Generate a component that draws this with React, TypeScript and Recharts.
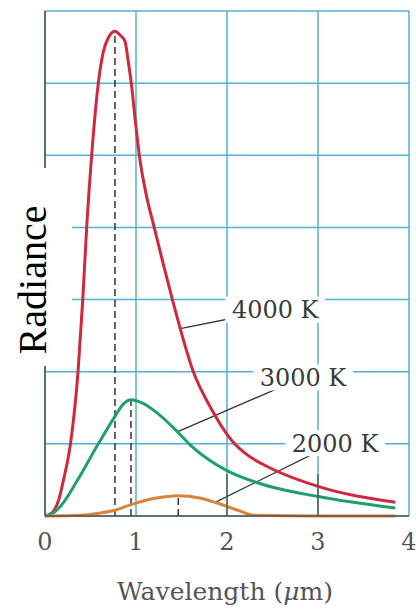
import { LineChart, Line, XAxis, YAxis, CartesianGrid, ReferenceLine, ReferenceDot } from 'recharts';

// wavelength (µm) and radiance (arbitrary units)
const wl4000 = [0, 0.05, 0.1, 0.15, 0.2, 0.28, 0.363, 0.415, 0.458, 0.513, 0.586, 0.64, 0.696, 0.769, 0.83, 0.879, 0.915, 0.953, 0.995, 1.04, 1.105, 1.2, 1.3, 1.4, 1.63, 1.83, 2.05, 2.23, 2.42, 3.0, 3.85];
const rad4000 = [0, 0.02, 0.08, 0.22, 0.48, 1.0, 2.0, 3.0, 4.0, 5.0, 6.0, 6.43, 6.63, 6.72, 6.66, 6.58, 6.3, 5.95, 5.45, 4.97, 4.5, 4.0, 3.49, 3.0, 2.0, 1.48, 1.05, 0.84, 0.7, 0.41, 0.19];

const wl3000 = [0, 0.1, 0.18, 0.348, 0.586, 0.769, 0.86, 0.945, 1.06, 1.21, 1.43, 1.6, 1.8, 2.0, 2.36, 3.0, 3.85];
const rad3000 = [0, 0.05, 0.15, 0.477, 1.0, 1.38, 1.55, 1.61, 1.57, 1.45, 1.2, 0.98, 0.78, 0.63, 0.45, 0.27, 0.11];

const wl2000 = [0, 0.4, 0.6, 0.77, 0.93, 1.21, 1.465, 1.7, 1.89, 2.14, 2.29, 3.0, 3.85];
const rad2000 = [0, 0.01, 0.04, 0.08, 0.15, 0.245, 0.28, 0.25, 0.18, 0.07, 0.01, 0, 0];

const xTicks = [0, 1, 2, 3, 4];
const yTicks = [0, 1, 2, 3, 4, 5, 6, 7];
const innerTicks = [2, 3];

const labelNames = ['4000 K', '3000 K', '2000 K'];
const labelX = [2.53, 2.835, 3.187];
const labelY = [2.86, 1.92, 1.01];
const leaderToX = [1.5, 1.46, 1.87];
const leaderToY = [2.6, 1.17, 0.19];

const GRID = '#4fb3cf';
const AXIS = '#555';
const TEXT = '#3a3a3a';
const SERIF = '"DejaVu Serif", serif';

const series = [
  { name: '4000 K', xs: wl4000, ys: rad4000, color: '#d0283c' },
  { name: '3000 K', xs: wl3000, ys: rad3000, color: '#1f9f6c' },
  { name: '2000 K', xs: wl2000, ys: rad2000, color: '#d8843a' },
].map((s) => {
  const data = s.xs.map((x, i) => ({ x, y: s.ys[i] }));
  const peak = data.reduce((a, b) => (b.y > a.y ? b : a));
  return { ...s, data, peak };
});

const BOX_W = 100;
const BOX_H = 26;

const XTick = (props: any) => {
  const { x, y, payload } = props;
  return (
    <g>
      {innerTicks.includes(payload.value) && (
        <line x1={x} y1={y} x2={x} y2={y - 42} stroke={AXIS} strokeWidth={1.4} />
      )}
      <text x={x} y={y + 34} textAnchor="middle" fill="#555" fontSize={24} fontFamily={SERIF}>
        {payload.value}
      </text>
    </g>
  );
};

const NoTick = () => <g />;

const AxisTitle = (props: any) => {
  const { viewBox } = props;
  return (
    <text
      x={viewBox.x + viewBox.width / 2 - 2}
      y={viewBox.y + 84}
      textAnchor="middle"
      fill="#555"
      fontSize={25}
      fontFamily={SERIF}
    >
      Wavelength (<tspan fontStyle="italic">μ</tspan>m)
    </text>
  );
};

export default function App() {
  return (
    <div style={{ position: 'absolute', left: 0, top: 0, width: 416, height: 612, background: '#fff' }}>
      <LineChart width={416} height={612} margin={{ top: 11, right: 7, bottom: 0, left: 44 }}>
        <CartesianGrid stroke={GRID} strokeWidth={1.5} />
        <XAxis
          dataKey="x"
          type="number"
          domain={[0, 4]}
          ticks={xTicks}
          height={96}
          tickSize={0}
          tickMargin={0}
          tickLine={false}
          axisLine={{ stroke: AXIS, strokeWidth: 1.6 }}
          tick={<XTick />}
          label={<AxisTitle />}
          allowDuplicatedCategory={false}
        />
        <YAxis
          type="number"
          domain={[0, 7]}
          ticks={yTicks}
          width={1}
          tick={<NoTick />}
          tickLine={false}
          axisLine={{ stroke: AXIS, strokeWidth: 1.6 }}
        />
        {series.map((s) => (
          <ReferenceLine
            key={'peak' + s.name}
            segment={[{ x: s.peak.x, y: 0 }, { x: s.peak.x, y: s.peak.y }]}
            stroke="#333"
            strokeWidth={1.5}
            strokeDasharray="7 4"
          />
        ))}
        {labelNames.map((n, i) => (
          <ReferenceLine
            key={'lead' + n}
            segment={[{ x: leaderToX[i], y: leaderToY[i] }, { x: labelX[i], y: labelY[i] }]}
            stroke="#333"
            strokeWidth={1.3}
          />
        ))}
        {series.map((s) => (
          <Line
            key={s.name}
            data={s.data}
            dataKey="y"
            type="monotone"
            stroke={s.color}
            strokeWidth={3}
            dot={false}
            isAnimationActive={false}
          />
        ))}
        {labelNames.map((n, i) => (
          <ReferenceDot
            key={'lab' + n}
            x={labelX[i]}
            y={labelY[i]}
            r={0}
            shape={(p: any) => (
              <g>
                <rect x={p.cx - BOX_W / 2} y={p.cy - BOX_H / 2} width={BOX_W} height={BOX_H} fill="#fff" />
                <text x={p.cx} y={p.cy} dy="0.36em" textAnchor="middle" fill={TEXT} fontSize={24} fontFamily={SERIF}>
                  {n}
                </text>
              </g>
            )}
          />
        ))}
      </LineChart>
      <svg width={80} height={612} style={{ position: 'absolute', left: 0, top: 0 }}>
        <rect x={0} y={168} width={72} height={198} fill="#fff" />
        <text
          x={0}
          y={0}
          transform="translate(46 280) rotate(-90)"
          textAnchor="middle"
          fontSize={40}
          fontFamily='"Liberation Serif", serif'
          fill="#000"
        >
          Radiance
        </text>
      </svg>
    </div>
  );
}
